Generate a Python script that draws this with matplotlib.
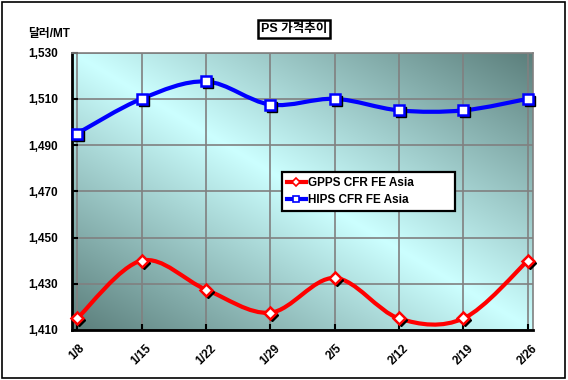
# PS price trend chart (GPPS / HIPS weekly)

import numpy as np
import matplotlib
matplotlib.use('Agg')
import matplotlib.pyplot as plt
from matplotlib.path import Path
from matplotlib.patches import PathPatch, Rectangle
from matplotlib.lines import Line2D
from matplotlib.transforms import offset_copy

plt.rcParams['font.family'] = ['Liberation Sans', 'Noto Sans CJK KR', 'DejaVu Sans']

# data
dates = ['1/8', '1/15', '1/22', '1/29', '2/5', '2/12', '2/19', '2/26']
gpps = [1415, 1440, 1427.5, 1417.5, 1432.5, 1415, 1415, 1440]
hips = [1495, 1510, 1517.5, 1507.5, 1510, 1505, 1505, 1510]
yticks = [1410, 1430, 1450, 1470, 1490, 1510, 1530]
title = 'PS 가격추이'
unit = '달러/MT'


def smooth_path(xs, ys):
    # excel-like smoothed line as bezier segments through the points
    pts = np.column_stack([xs, ys]).astype(float)
    n = len(pts)
    verts = [pts[0]]
    codes = [Path.MOVETO]
    for i in range(n - 1):
        p0 = pts[i - 1] if i > 0 else pts[i]
        p1 = pts[i]
        p2 = pts[i + 1]
        p3 = pts[i + 2] if i + 2 < n else pts[i + 1]
        verts += [p1 + (p2 - p0) / 6, p2 - (p3 - p1) / 6, p2]
        codes += [Path.CURVE4] * 3
    return Path(verts, codes)


fig = plt.figure(figsize=(5.68, 3.8), dpi=100)
ax = fig.add_axes([0.1268, 0.1316, 0.8115, 0.73])

# background gradient
u, v = np.meshgrid(np.linspace(0, 1, 300), np.linspace(1, 0, 200))
t = np.clip(np.abs(u + v - 1), 0, 1)[..., None]
light = np.array([0xcc, 0xff, 0xff]) / 255
dark = np.array([0x5b, 0x7e, 0x7b]) / 255
ax.imshow(light * (1 - t) + dark * t, extent=[0, 1, 0, 1], transform=ax.transAxes,
          aspect='auto', zorder=0, interpolation='bilinear')

x = np.arange(len(dates))
series = [(gpps, 'red', 'D', 6, 'GPPS CFR FE Asia'), (hips, 'blue', 's', 6.5, 'HIPS CFR FE Asia')]
shadow = offset_copy(ax.transData, fig=fig, x=2, y=-2, units='dots')
handles = []
for vals, col, mk, ms, name in series:
    ax.add_patch(PathPatch(smooth_path(x, vals), fill=False, edgecolor=col, lw=3,
                           zorder=3, clip_on=False, capstyle='round'))
    ax.plot(x, vals, ls='none', marker=mk, ms=ms, color='black', transform=shadow,
            zorder=4, clip_on=False)
    ax.plot(x, vals, ls='none', marker=mk, ms=ms, mfc='white', mec=col, mew=1.8,
            zorder=5, clip_on=False)
    handles.append(Line2D([], [], color=col, lw=3, marker=mk, ms=4.5, mfc='white',
                          mec=col, mew=1.2))

ax.set_xlim(-0.08, 7.08)
ax.set_ylim(1410, 1530)
ax.set_xticks(x)
ax.set_xticklabels(dates, rotation=45, ha='center', fontsize=8.5, fontweight='bold')
ax.set_yticks(yticks)
ax.set_yticklabels(['{:,}'.format(y) for y in yticks], fontsize=8.5, fontweight='bold')
ax.tick_params(axis='both', direction='in', length=4, width=1.5, color='black')
ax.tick_params(axis='y', pad=10)
ax.tick_params(axis='x', pad=9)

ax.grid(True, color='#808080', lw=1.2)
ax.set_axisbelow(True)
for side in ['top', 'right']:
    ax.spines[side].set_color('#808080')
    ax.spines[side].set_linewidth(1.2)
for side in ['left', 'bottom']:
    ax.spines[side].set_color('black')
    ax.spines[side].set_linewidth(2)

leg = fig.legend(handles=handles, labels=[s[4] for s in series],
                 bbox_to_anchor=(0.4965, 0.447, 0.3045, 0.0977), loc='center left',
                 mode='expand', borderaxespad=0, fancybox=False, edgecolor='black',
                 framealpha=1, prop={'size': 8.5, 'weight': 'bold'},
                 handlelength=1.6, handletextpad=0.2, labelspacing=0.45, borderpad=0.4)
leg.get_frame().set_linewidth(1.6)
leg.set_zorder(10)

fig.text(0.518, 0.924, title, ha='center', va='center', fontsize=9, fontweight='bold',
         bbox=dict(boxstyle='square,pad=0.25', fc='white', ec='black', lw=1.8))
fig.text(0.05, 0.91, unit, ha='left', va='center', fontsize=8.5, fontweight='bold')

# outer chart border
fig.patches.append(Rectangle((0.003, 0.004), 0.992, 0.991, transform=fig.transFigure,
                             fill=False, ec='black', lw=1.2))

fig.savefig('out.png', dpi=100)
